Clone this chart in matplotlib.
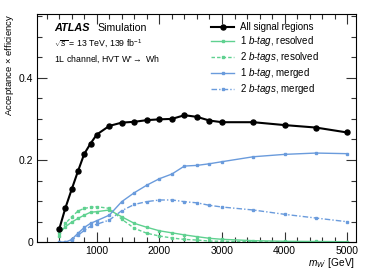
import matplotlib
matplotlib.use("Agg")
import matplotlib.pyplot as plt
from matplotlib.ticker import MultipleLocator, FixedLocator, FuncFormatter

plt.rcParams['font.family'] = ['Liberation Sans', 'DejaVu Sans']
plt.rcParams['mathtext.fontset'] = 'custom'
plt.rcParams['mathtext.rm'] = 'Liberation Sans'
plt.rcParams['mathtext.it'] = 'Liberation Sans:italic'
plt.rcParams['mathtext.bf'] = 'Liberation Sans:bold'

mass = [400, 500, 600, 700, 800, 900, 1000, 1200, 1400, 1600, 1800, 2000,
        2200, 2400, 2600, 2800, 3000, 3500, 4000, 4500, 5000]

all_sr = [0.032, 0.084, 0.129, 0.173, 0.215, 0.240, 0.262, 0.283, 0.291, 0.293,
          0.297, 0.299, 0.300, 0.309, 0.305, 0.296, 0.292, 0.292, 0.285, 0.279, 0.267]
b1_res = [0.022, 0.038, 0.049, 0.058, 0.066, 0.073, 0.0745, 0.0785, 0.062, 0.046,
          0.0365, 0.028, 0.023, 0.018, 0.0137, 0.0097, 0.0073, 0.004, 0.0025, 0.002, 0.0015]
b2_res = [0.015, 0.046, 0.062, 0.076, 0.0825, 0.085, 0.0866, 0.0825, 0.056, 0.034,
          0.022, 0.0153, 0.0105, 0.007, 0.0055, 0.003, 0.0025, 0.0015, 0.001, 0.001, 0.001]
b1_mer = [0.0, 0.0, 0.007, 0.022, 0.036, 0.046, 0.0525, 0.066, 0.099, 0.1206,
          0.139, 0.1546, 0.166, 0.1854, 0.187, 0.191, 0.196, 0.208, 0.2138, 0.217, 0.2155]
b2_mer = [0.0, 0.0, 0.005, 0.017, 0.029, 0.039, 0.044, 0.054, 0.077, 0.092,
          0.099, 0.1028, 0.103, 0.0987, 0.096, 0.0899, 0.0858, 0.0785, 0.068, 0.059, 0.050]

labels = ["All signal regions",
          r"$\mathit{1\ b}$-$\mathit{tag}$, resolved",
          r"$\mathit{2\ b}$-$\mathit{tags}$, resolved",
          r"$\mathit{1\ b}$-$\mathit{tag}$, merged",
          r"$\mathit{2\ b}$-$\mathit{tags}$, merged"]

green = '#5fd190'
blue = '#6a9bdc'

fig = plt.figure(figsize=(3.74, 2.70), dpi=100)
ax = fig.add_axes([0.0997, 0.1026, 0.8513, 0.8454])

ax.plot(mass, all_sr, color='black', lw=1.5, marker='o', ms=3.6, label=labels[0], zorder=5)
ax.plot(mass, b1_res, color=green, lw=1.0, ls='-', marker='s', ms=2.0, label=labels[1])
ax.plot(mass, b2_res, color=green, lw=1.0, ls=(0, (2.5, 1.5)), marker='s', ms=2.0, label=labels[2])
ax.plot(mass, b1_mer, color=blue, lw=1.0, ls='-', marker='s', ms=2.0, label=labels[3])
ax.plot(mass, b2_mer, color=blue, lw=1.0, ls=(0, (4, 1.5, 1, 1.5)), marker='s', ms=2.0, label=labels[4])

ax.set_xlim(50, 5135)
ax.set_ylim(0, 0.555)

ax.xaxis.set_major_locator(FixedLocator([1000, 2000, 3000, 4000, 5000]))
ax.xaxis.set_minor_locator(MultipleLocator(200))
ax.yaxis.set_major_locator(FixedLocator([0, 0.2, 0.4]))
ax.yaxis.set_minor_locator(MultipleLocator(0.05))
ax.yaxis.set_major_formatter(FuncFormatter(lambda v, p: '%g' % v))

ax.tick_params(which='both', direction='in', top=True, right=True, labelsize=7.5,
               width=0.8, color='#333333')
ax.tick_params(which='major', length=7, pad=3)
ax.tick_params(which='minor', length=3.5)
for s in ax.spines.values():
    s.set_linewidth(0.8)

ax.set_xlabel(r"$m_{W'}$ [GeV]", fontsize=7.3, loc='right', labelpad=-0.5)
ax.set_ylabel(r"Acceptance $\times$ efficiency", fontsize=6.8, loc='top', labelpad=2)

ax.text(0.052, 0.938, "ATLAS", transform=ax.transAxes, fontsize=7.8,
        fontweight='bold', fontstyle='italic', va='center')
ax.text(0.188, 0.938, "Simulation", transform=ax.transAxes, fontsize=7.6, va='center')
ax.text(0.052, 0.868, r"$\sqrt{s}$ = 13 TeV, 139 fb$^{-1}$", transform=ax.transAxes,
        fontsize=6.3, va='center')
ax.text(0.052, 0.803, r"1L channel, HVT W'$\rightarrow$ Wh", transform=ax.transAxes,
        fontsize=6.3, va='center')

leg = ax.legend(loc='upper left', bbox_to_anchor=(0.5455, 0.963), fontsize=7, frameon=False,
                handlelength=2.4, handletextpad=0.55, labelspacing=0.2,
                markerscale=1.0, numpoints=1, borderaxespad=0.0, borderpad=0.0)

fig.savefig("out.png", dpi=100)
